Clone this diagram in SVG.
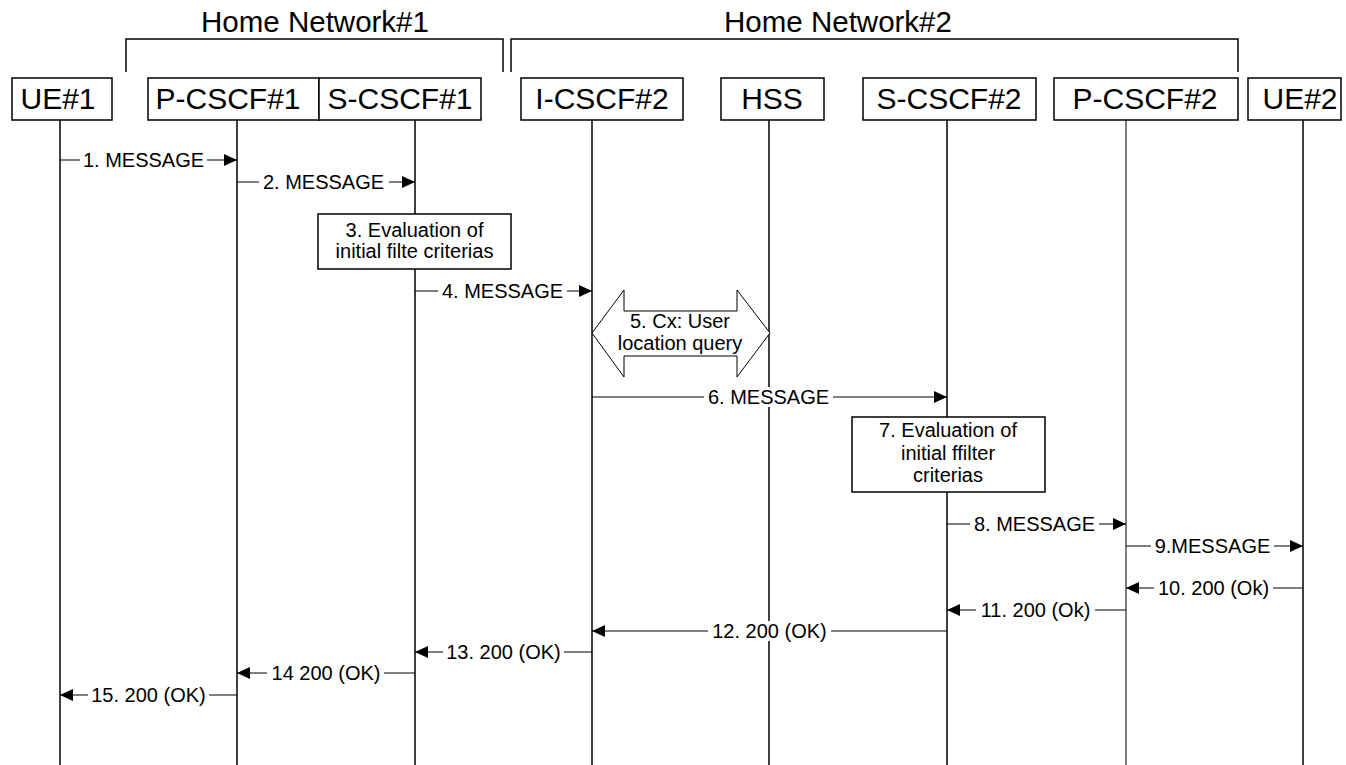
<svg xmlns="http://www.w3.org/2000/svg" width="1346" height="765" viewBox="0 0 1346 765">
<style>
  .box{fill:#fff;stroke:#000;stroke-width:1.5}
  .life{stroke:#000;stroke-width:1.5}
  .thin{stroke:#000;stroke-width:1}
  .hdr{font-family:"Liberation Sans",Arial,sans-serif;font-size:30px;text-anchor:middle;fill:#000}
  .ttl{font-family:"Liberation Sans",Arial,sans-serif;font-size:29.5px;text-anchor:middle;fill:#000}
  .lbl{font-family:"Liberation Sans",Arial,sans-serif;font-size:20px;text-anchor:middle;fill:#000}
  .msg{stroke:#000;stroke-width:1;fill:none;marker-end:url(#ah)}
  .bg{fill:#fff}
  .br{fill:none;stroke:#000;stroke-width:1.5}
</style>
<defs>
  <marker id="ah" markerUnits="userSpaceOnUse" markerWidth="14" markerHeight="12" refX="13" refY="6" orient="auto">
    <path d="M0,0 L13,6 L0,12 z" fill="#000"/>
  </marker>
</defs>
<rect width="1346" height="765" fill="#fff"/>

<g id="networks">
  <text class="ttl" x="315" y="32">Home Network#1</text>
  <path class="br" d="M126,72 V39 H503 V72"/>
  <text class="ttl" x="838" y="32">Home Network#2</text>
  <path class="br" d="M511,72 V39 H1238 V72"/>
</g>

<g id="ue1">
  <line class="life" x1="60" y1="120" x2="60" y2="765"/>
  <rect class="box" x="12" y="78" width="100" height="42"/>
  <text class="hdr" x="58" y="109">UE#1</text>
</g>
<g id="pcscf1">
  <line class="life" x1="237" y1="120" x2="237" y2="765"/>
  <rect class="box" x="148" y="78" width="171" height="42"/>
  <text class="hdr" x="228" y="109">P-CSCF#1</text>
</g>
<g id="scscf1">
  <line class="life" x1="415" y1="120" x2="415" y2="765"/>
  <rect class="box" x="319" y="78" width="162" height="42"/>
  <text class="hdr" x="400" y="109">S-CSCF#1</text>
</g>
<g id="icscf2">
  <line class="life" x1="592" y1="120" x2="592" y2="765"/>
  <rect class="box" x="521" y="78" width="162" height="42"/>
  <text class="hdr" x="602" y="109">I-CSCF#2</text>
</g>
<g id="hss">
  <line class="life" x1="769" y1="120" x2="769" y2="765"/>
  <rect class="box" x="721" y="78" width="103" height="42"/>
  <text class="hdr" x="772" y="109">HSS</text>
</g>
<g id="scscf2">
  <line class="life" x1="947" y1="120" x2="947" y2="765"/>
  <rect class="box" x="863" y="78" width="173" height="42"/>
  <text class="hdr" x="949" y="109">S-CSCF#2</text>
</g>
<g id="pcscf2">
  <line class="thin" x1="1126" y1="120" x2="1126" y2="765"/>
  <rect class="box" x="1054" y="78" width="184" height="42"/>
  <text class="hdr" x="1145" y="109">P-CSCF#2</text>
</g>
<g id="ue2">
  <line class="life" x1="1303" y1="120" x2="1303" y2="765"/>
  <rect class="box" x="1248" y="78" width="93" height="42"/>
  <text class="hdr" x="1300" y="109">UE#2</text>
</g>

<g id="step3">
  <rect class="box" x="318" y="214" width="193" height="55"/>
  <text class="lbl" x="414.5" y="237">3. Evaluation of</text>
  <text class="lbl" x="414.5" y="258">initial filte criterias</text>
</g>
<g id="step7">
  <rect class="box" x="852" y="417" width="193" height="75"/>
  <text class="lbl" x="948" y="437">7. Evaluation of</text>
  <text class="lbl" x="948" y="460">initial ffilter</text>
  <text class="lbl" x="948" y="482">criterias</text>
</g>

<g id="connectors">
  <line class="msg" x1="60" y1="160" x2="237" y2="160"/>
  <rect class="bg" x="80" y="150" width="127" height="20"/>
  <text class="lbl" x="143.5" y="167">1. MESSAGE</text>

  <line class="msg" x1="237" y1="182" x2="415" y2="182"/>
  <rect class="bg" x="259" y="172" width="130" height="20"/>
  <text class="lbl" x="323.5" y="189">2. MESSAGE</text>

  <line class="msg" x1="415" y1="291" x2="592" y2="291"/>
  <rect class="bg" x="438" y="281" width="129" height="20"/>
  <text class="lbl" x="502.5" y="298">4. MESSAGE</text>

  <g id="step5">
    <polygon points="592,333 624,290 624,311 737,311 737,290 770,333 737,377 737,356 624,356 624,377" fill="#fff" stroke="#000" stroke-width="1"/>
    <text class="lbl" x="680" y="328">5. Cx: User</text>
    <text class="lbl" x="680" y="350">location query</text>
  </g>

  <line class="msg" x1="592" y1="397" x2="947" y2="397"/>
  <rect class="bg" x="704" y="387" width="129" height="20"/>
  <text class="lbl" x="768.5" y="404">6. MESSAGE</text>

  <line class="msg" x1="947" y1="524" x2="1126" y2="524"/>
  <rect class="bg" x="970" y="514" width="129" height="20"/>
  <text class="lbl" x="1034.5" y="531">8. MESSAGE</text>

  <line class="msg" x1="1126" y1="546" x2="1303" y2="546"/>
  <rect class="bg" x="1151" y="536" width="123" height="20"/>
  <text class="lbl" x="1212.5" y="553">9.MESSAGE</text>

  <line class="msg" x1="1303" y1="588" x2="1126" y2="588"/>
  <rect class="bg" x="1154" y="578" width="119" height="20"/>
  <text class="lbl" x="1213.5" y="595">10. 200 (Ok)</text>

  <line class="msg" x1="1126" y1="610" x2="947" y2="610"/>
  <rect class="bg" x="976" y="600" width="119" height="20"/>
  <text class="lbl" x="1035.5" y="617">11. 200 (Ok)</text>

  <line class="msg" x1="947" y1="631" x2="592" y2="631"/>
  <rect class="bg" x="708" y="621" width="123" height="20"/>
  <text class="lbl" x="769.5" y="638">12. 200 (OK)</text>

  <line class="msg" x1="592" y1="652" x2="415" y2="652"/>
  <rect class="bg" x="443" y="642" width="121" height="20"/>
  <text class="lbl" x="503.5" y="659">13. 200 (OK)</text>

  <line class="msg" x1="415" y1="673" x2="237" y2="673"/>
  <rect class="bg" x="267" y="663" width="117" height="20"/>
  <text class="lbl" x="326" y="680">14 200 (OK)</text>

  <line class="msg" x1="237" y1="695" x2="60" y2="695"/>
  <rect class="bg" x="88" y="685" width="121" height="20"/>
  <text class="lbl" x="148.5" y="702">15. 200 (OK)</text>
</g>
</svg>
